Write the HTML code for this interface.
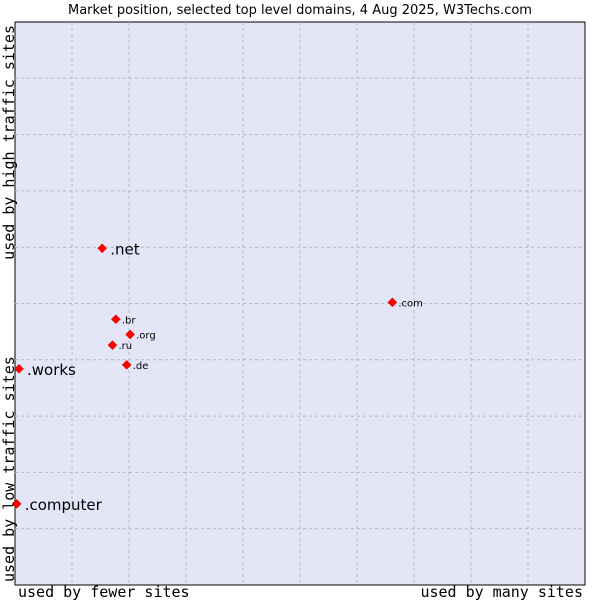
<!DOCTYPE html>
<html><head><meta charset="utf-8"><style>
body{margin:0;background:#fff;width:600px;height:600px;overflow:hidden}
text{font-family:"DejaVu Sans",sans-serif}
.mono{font-family:"DejaVu Sans Mono","Liberation Mono",monospace}
</style></head><body>
<svg id="c" width="600" height="600">
<text x="300" y="14" text-anchor="middle" font-size="13">Market position, selected top level domains, 4 Aug 2025, W3Techs.com</text>
<rect x="15" y="22" width="570" height="563" fill="#e4e6f8" stroke="#000" stroke-width="1"/>
<g id="grid"></g>
<g id="pts"></g>
<text class="mono" x="18" y="597" font-size="15">used by fewer sites</text>
<text class="mono" x="583" y="597" font-size="15" text-anchor="end">used by many sites</text>
<text class="mono" transform="translate(14,582) rotate(-90)" font-size="15">used by low traffic sites</text>
<text class="mono" transform="translate(14,25) rotate(-90)" font-size="15" text-anchor="end">used by high traffic sites</text>
</svg>
<script>
const labels=[".net",".com",".br",".org",".ru",".de",".works",".computer"];
const xs=[15.3,66.2,17.7,20.2,17.1,19.6,0.7,0.3];
const ys=[59.8,50.2,47.2,44.5,42.6,39.1,38.4,14.4];
const big=[true,false,false,false,false,false,true,true];
const L=15,T=22,W=570,H=563;
const sx=v=>L+v/100*W, sy=v=>T+H-v/100*H;
const ns="http://www.w3.org/2000/svg";
const g=document.getElementById('grid');
for(let i=1;i<10;i++){
 const a=document.createElementNS(ns,'line');
 
 
 a.setAttribute('x1',sx(i*10));a.setAttribute('x2',sx(i*10));a.setAttribute('y1',T);a.setAttribute('y2',T+H);
 a.setAttribute('stroke','#b8b8b8');a.setAttribute('stroke-dasharray','3,3');g.appendChild(a);
 const b=document.createElementNS(ns,'line');
 
 
 b.setAttribute('y1',sy(i*10));b.setAttribute('y2',sy(i*10));b.setAttribute('x1',L);b.setAttribute('x2',L+W);
 b.setAttribute('stroke','#b8b8b8');b.setAttribute('stroke-dasharray','3,3');g.appendChild(b);
}
const p=document.getElementById('pts');
labels.forEach((l,i)=>{
 const x=sx(xs[i]),y=sy(ys[i]);
 const d=document.createElementNS(ns,'path');
 
 
 d.setAttribute('d',`M${x-4.5},${y}L${x},${y-4.5}L${x+4.5},${y}L${x},${y+4.5}Z`);
 d.setAttribute('fill','#ff0000');d.setAttribute('stroke','#c00');d.setAttribute('stroke-width','0.5');p.appendChild(d);
 const t=document.createElementNS(ns,'text');
 
 
 t.setAttribute('x',x+(big[i]?8:6));t.setAttribute('y',y+(big[i]?6:4));
 t.setAttribute('font-size',big[i]?15:10);t.textContent=l;p.appendChild(t);
});
</script>
</body></html>
